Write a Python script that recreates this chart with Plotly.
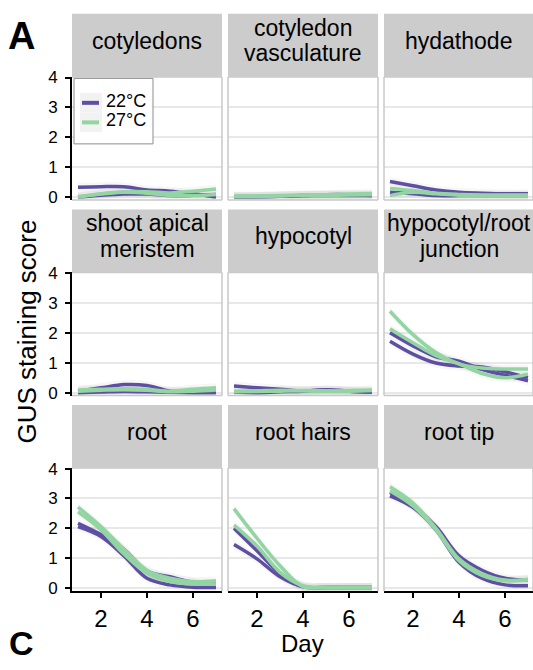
import plotly.graph_objects as go

# ---------------- data ----------------
days = [1, 2, 3, 4, 5, 6, 7]
x_ticks = [2, 4, 6]
y_ticks = [0, 1, 2, 3, 4]
temps = ["22°C", "27°C"]
panel_titles = [
    ["cotyledons"], ["cotyledon", "vasculature"], ["hydathode"],
    ["shoot apical", "meristem"], ["hypocotyl"], ["hypocotyl/root", "junction"],
    ["root"], ["root hairs"], ["root tip"],
]

# two replicate smooth curves per temperature in every panel
cotyledons_22 = [[0.33, 0.35, 0.35, 0.24, 0.20, 0.11, 0.00],
                 [0.00, 0.06, 0.10, 0.10, 0.05, 0.06, 0.09]]
cotyledons_27 = [[0.00, 0.11, 0.18, 0.18, 0.14, 0.20, 0.27],
                 [0.02, 0.10, 0.16, 0.13, 0.05, 0.05, 0.09]]
vasculature_22 = [[0.00, 0.01, 0.03, 0.05, 0.08, 0.08, 0.05],
                  [0.02, 0.02, 0.03, 0.05, 0.05, 0.05, 0.05]]
vasculature_27 = [[0.04, 0.04, 0.05, 0.07, 0.08, 0.10, 0.12],
                  [0.01, 0.02, 0.04, 0.06, 0.06, 0.07, 0.08]]
hydathode_22 = [[0.52, 0.38, 0.24, 0.16, 0.13, 0.11, 0.11],
                [0.16, 0.11, 0.05, 0.05, 0.05, 0.05, 0.05]]
hydathode_27 = [[0.29, 0.22, 0.13, 0.09, 0.07, 0.07, 0.07],
                [0.05, 0.16, 0.11, 0.06, 0.05, 0.05, 0.05]]
sam_22 = [[0.05, 0.16, 0.27, 0.24, 0.05, 0.05, 0.02],
          [0.00, 0.02, 0.04, 0.03, 0.01, 0.00, 0.00]]
sam_27 = [[0.09, 0.11, 0.13, 0.11, 0.05, 0.11, 0.16],
          [0.05, 0.08, 0.10, 0.08, 0.03, 0.05, 0.09]]
hypocotyl_22 = [[0.22, 0.16, 0.11, 0.05, 0.09, 0.05, 0.02],
                [0.02, 0.00, 0.03, 0.05, 0.10, 0.05, 0.02]]
hypocotyl_27 = [[0.05, 0.06, 0.08, 0.06, 0.05, 0.07, 0.09],
                [0.03, 0.04, 0.05, 0.07, 0.06, 0.05, 0.07]]
junction_22 = [[2.00, 1.56, 1.20, 1.05, 0.78, 0.58, 0.40],
               [1.72, 1.29, 0.99, 0.89, 0.86, 0.70, 0.50]]
junction_27 = [[2.72, 1.94, 1.34, 0.96, 0.82, 0.79, 0.79],
               [2.14, 1.67, 1.24, 0.96, 0.64, 0.50, 0.62]]
root_22 = [[2.17, 1.79, 1.30, 0.57, 0.38, 0.20, 0.16],
           [2.06, 1.73, 1.08, 0.33, 0.11, 0.03, 0.02]]
root_27 = [[2.71, 2.06, 1.30, 0.60, 0.33, 0.22, 0.25],
           [2.55, 1.95, 1.14, 0.49, 0.22, 0.14, 0.14]]
root_hairs_22 = [[2.00, 1.25, 0.49, 0.05, 0.02, 0.02, 0.02],
                 [1.46, 0.98, 0.38, 0.05, 0.02, 0.02, 0.02]]
root_hairs_27 = [[2.66, 1.67, 0.75, 0.05, 0.02, 0.02, 0.02],
                 [2.11, 1.41, 0.53, 0.08, 0.02, 0.02, 0.02]]
root_tip_22 = [[3.20, 2.75, 2.06, 1.08, 0.60, 0.33, 0.27],
               [3.09, 2.70, 1.95, 0.87, 0.33, 0.11, 0.08]]
root_tip_27 = [[3.39, 2.85, 2.00, 0.98, 0.49, 0.27, 0.27],
               [3.25, 2.75, 1.95, 0.92, 0.43, 0.25, 0.30]]

panel_data = [
    (cotyledons_22, cotyledons_27), (vasculature_22, vasculature_27), (hydathode_22, hydathode_27),
    (sam_22, sam_27), (hypocotyl_22, hypocotyl_27), (junction_22, junction_27),
    (root_22, root_27), (root_hairs_22, root_hairs_27), (root_tip_22, root_tip_27),
]
ribbon_halfwidth = 0.15

# ---------------- style / layout ----------------
W, H = 533, 670
colors = ["#5e4fa2", "#92d5a2"]
font_family = "Liberation Sans, Arial, Helvetica, sans-serif"
col_px = [(72, 222), (228, 378), (384, 533)]
row_px = [(70.5, 196.5), (270.5, 396.5), (470.5, 596.5)]
strip_h = 64.5
px_per_day = 23.0
x0 = 0.74


def fx(px):
    return px / W


def fy(py):
    return 1 - py / H


fig = go.Figure()
layout_axes = {}
shapes = []
annotations = []

for i in range(9):
    r, c = divmod(i, 3)
    n = i + 1
    xa = "x" if n == 1 else f"x{n}"
    ya = "y" if n == 1 else f"y{n}"
    d22, d27 = panel_data[i]
    for k, series in enumerate([d22, d27]):
        for rep in series:
            upper = [v + ribbon_halfwidth for v in rep]
            lower = [v - ribbon_halfwidth for v in rep]
            fig.add_trace(go.Scatter(x=days, y=upper, mode="lines", line=dict(width=0, shape="spline"),
                                     xaxis=xa, yaxis=ya, showlegend=False, hoverinfo="skip"))
            fig.add_trace(go.Scatter(x=days, y=lower, mode="lines", line=dict(width=0, shape="spline"),
                                     fill="tonexty", fillcolor="rgba(170,170,170,0.09)",
                                     xaxis=xa, yaxis=ya, showlegend=False, hoverinfo="skip"))
    for k, series in enumerate([d22, d27]):
        for rep in series:
            fig.add_trace(go.Scatter(x=days, y=rep, mode="lines", name=temps[k],
                                     line=dict(color=colors[k], width=3.5, shape="spline", smoothing=1.0),
                                     xaxis=xa, yaxis=ya, showlegend=False))

    l, rr = col_px[c]
    t, b = row_px[r]
    xrange = [x0, x0 + (rr - l) / px_per_day]
    xkey = "xaxis" if n == 1 else f"xaxis{n}"
    ykey = "yaxis" if n == 1 else f"yaxis{n}"
    bottom = (r == 2)
    left = (c == 0)
    layout_axes[xkey] = dict(
        domain=[fx(l), fx(rr)], range=xrange, anchor=ya, showgrid=False, zeroline=False,
        tickvals=x_ticks, showticklabels=bottom, ticks="outside" if bottom else "",
        ticklen=5, tickwidth=1.5, tickcolor="black",
        tickfont=dict(size=24, color="black", family=font_family),
        showline=bottom, linecolor="black", linewidth=2,
    )
    layout_axes[ykey] = dict(
        domain=[fy(b), fy(t)], range=[-0.1, 4.02], anchor=xa, showgrid=True,
        gridcolor="#e8e8e8", gridwidth=1.5, zeroline=False,
        tickvals=y_ticks, showticklabels=left, ticks="outside" if left else "",
        ticklen=5, tickwidth=1.5, tickcolor="black", ticklabelstandoff=4,
        tickfont=dict(size=17, color="black", family=font_family),
        showline=left, linecolor="black", linewidth=2,
    )
    # panel border (grey) on the sides without a black axis line
    bc = "#c8c8c8"
    shapes.append(dict(type="line", xref="paper", yref="paper", x0=fx(l), x1=fx(rr), y0=fy(t), y1=fy(t),
                       line=dict(color=bc, width=1.5), layer="above"))
    shapes.append(dict(type="line", xref="paper", yref="paper", x0=fx(rr), x1=fx(rr), y0=fy(t), y1=fy(b),
                       line=dict(color=bc, width=1.5), layer="above"))
    if not bottom:
        shapes.append(dict(type="line", xref="paper", yref="paper", x0=fx(l), x1=fx(rr), y0=fy(b), y1=fy(b),
                           line=dict(color=bc, width=1.5), layer="above"))
    if not left:
        shapes.append(dict(type="line", xref="paper", yref="paper", x0=fx(l), x1=fx(l), y0=fy(t), y1=fy(b),
                           line=dict(color=bc, width=1.5), layer="above"))
    # strip
    shapes.append(dict(type="rect", xref="paper", yref="paper", x0=fx(l), x1=fx(rr),
                       y0=fy(t), y1=fy(t - strip_h), fillcolor="#cccccc", line=dict(width=0), layer="above"))
    cx = (l + rr) / 2
    cy = t - strip_h / 2
    lines = panel_titles[i]
    if len(lines) == 1:
        ys = [cy - 5]
    else:
        ys = [cy - 18, cy + 8]
    for txt, yy in zip(lines, ys):
        annotations.append(dict(text=txt, x=fx(cx), y=fy(yy), xref="paper", yref="paper",
                                xanchor="center", yanchor="middle", showarrow=False,
                                font=dict(size=23, color="black", family=font_family)))

# manual legend inside the first panel
shapes.append(dict(type="rect", xref="paper", yref="paper", x0=fx(74), x1=fx(153), y0=fy(139), y1=fy(72),
                   fillcolor="white", line=dict(color="#8c8c8c", width=1), layer="above"))
for k, (yk) in enumerate([97, 117]):
    shapes.append(dict(type="rect", xref="paper", yref="paper", x0=fx(80), x1=fx(102),
                       y0=fy(yk + 10), y1=fy(yk - 10), fillcolor="#f2f2f2", line=dict(width=0), layer="above"))
    shapes.append(dict(type="line", xref="paper", yref="paper", x0=fx(82), x1=fx(99), y0=fy(yk), y1=fy(yk),
                       line=dict(color=colors[k], width=4), layer="above"))
    annotations.append(dict(text=temps[k], x=fx(104), y=fy(yk - 2), xref="paper", yref="paper",
                            xanchor="left", yanchor="middle", showarrow=False,
                            font=dict(size=18, color="black", family=font_family)))

# axis titles and panel letters
annotations.append(dict(text="GUS staining score", x=fx(27), y=fy(331), xref="paper", yref="paper",
                        textangle=-90, xanchor="center", yanchor="middle", showarrow=False,
                        font=dict(size=26, color="black", family=font_family)))
annotations.append(dict(text="Day", x=fx(302), y=fy(650), xref="paper", yref="paper",
                        xanchor="center", yanchor="middle", showarrow=False,
                        font=dict(size=24, color="black", family=font_family)))
annotations.append(dict(text="<b>A</b>", x=fx(21), y=fy(29), xref="paper", yref="paper",
                        xanchor="center", yanchor="middle", showarrow=False,
                        font=dict(size=38, color="black", family=font_family)))
annotations.append(dict(text="<b>C</b>", x=fx(21), y=fy(650), xref="paper", yref="paper",
                        xanchor="center", yanchor="middle", showarrow=False,
                        font=dict(size=34, color="black", family=font_family)))

fig.update_layout(
    width=W, height=H, margin=dict(l=0, r=0, t=0, b=0),
    paper_bgcolor="white", plot_bgcolor="white",
    showlegend=False, shapes=shapes, annotations=annotations,
    font=dict(family=font_family, color="black"),
    **layout_axes,
)
fig.write_html("out.html")
